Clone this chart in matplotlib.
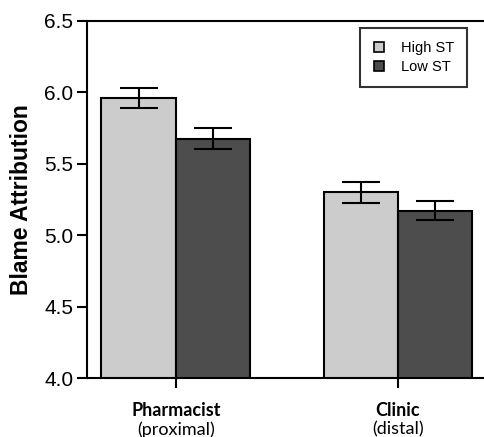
import matplotlib
matplotlib.use('Agg')

import matplotlib.pyplot as plt
from matplotlib.font_manager import FontProperties
import numpy as np

# Group means and error bars
categories = ['Pharmacist', 'Clinic']
subtitles = ['(proximal)', '(distal)']
high_st = [5.96, 5.30]
high_err = [0.07, 0.072]
low_st = [5.675, 5.172]
low_err = [0.074, 0.067]

x = np.arange(len(categories))
width = 0.335

fig = plt.figure(figsize=(4.84, 4.37), dpi=100)
# axes runs past the right edge of the canvas, like the original crop
ax = fig.add_axes([0.1798, 0.135, 0.826, 0.817])

err_kw = dict(elinewidth=1.5, capthick=1.5, ecolor='black')
ax.bar(x - width / 2, high_st, width, yerr=high_err, capsize=13.7,
       color='#cccccc', edgecolor='black', linewidth=1.5, label='High ST', error_kw=err_kw)
ax.bar(x + width / 2, low_st, width, yerr=low_err, capsize=13.7,
       color='#4d4d4d', edgecolor='black', linewidth=1.5, label='Low ST', error_kw=err_kw)

ax.set_xlim(-0.4, 1.4)
ax.set_ylim(4.0, 6.5)
ax.set_yticks([4.0, 4.5, 5.0, 5.5, 6.0, 6.5])
ax.set_yticklabels(['4.0', '4.5', '5.0', '5.5', '6.0', '6.5'],
                   fontproperties=FontProperties(family='Liberation Sans', stretch='normal', size=15))
ax.set_xticks(x)
ax.set_xticklabels([])
ax.tick_params(axis='both', direction='out', length=7, width=1.5, color='black')
ax.tick_params(axis='y', pad=3)

for s in ['left', 'bottom', 'top']:
    ax.spines[s].set_linewidth(1.5)
ax.spines['right'].set_visible(False)

# two-line category labels: bold name over regular subtitle
for xi, name, sub in zip(x, categories, subtitles):
    ax.annotate(name, xy=(xi, 0), xycoords=('data', 'axes fraction'),
                xytext=(0, -17), textcoords='offset points',
                ha='center', va='top', fontsize=13, fontweight='bold', family='Lato')
    ax.annotate(sub, xy=(xi, 0), xycoords=('data', 'axes fraction'),
                xytext=(0, -31), textcoords='offset points',
                ha='center', va='top', fontsize=13, family='Lato')

ax.set_ylabel('Blame Attribution', labelpad=8,
              fontproperties=FontProperties(family='Liberation Sans', weight='bold',
                                            stretch='normal', size=16.5))

leg = ax.legend(loc='upper left', bbox_to_anchor=(0.684, 0.981), frameon=True,
                fancybox=False, edgecolor='black',
                prop=FontProperties(family='Liberation Sans', stretch='normal', size=10.5),
                handlelength=0.7, handleheight=0.7, handletextpad=1.15,
                labelspacing=0.35, borderpad=0.9, borderaxespad=0)
leg.get_frame().set_linewidth(1.5)
for h in leg.legend_handles:
    h.set_linewidth(1.2)

plt.savefig('out.png', dpi=100)
plt.close(fig)
